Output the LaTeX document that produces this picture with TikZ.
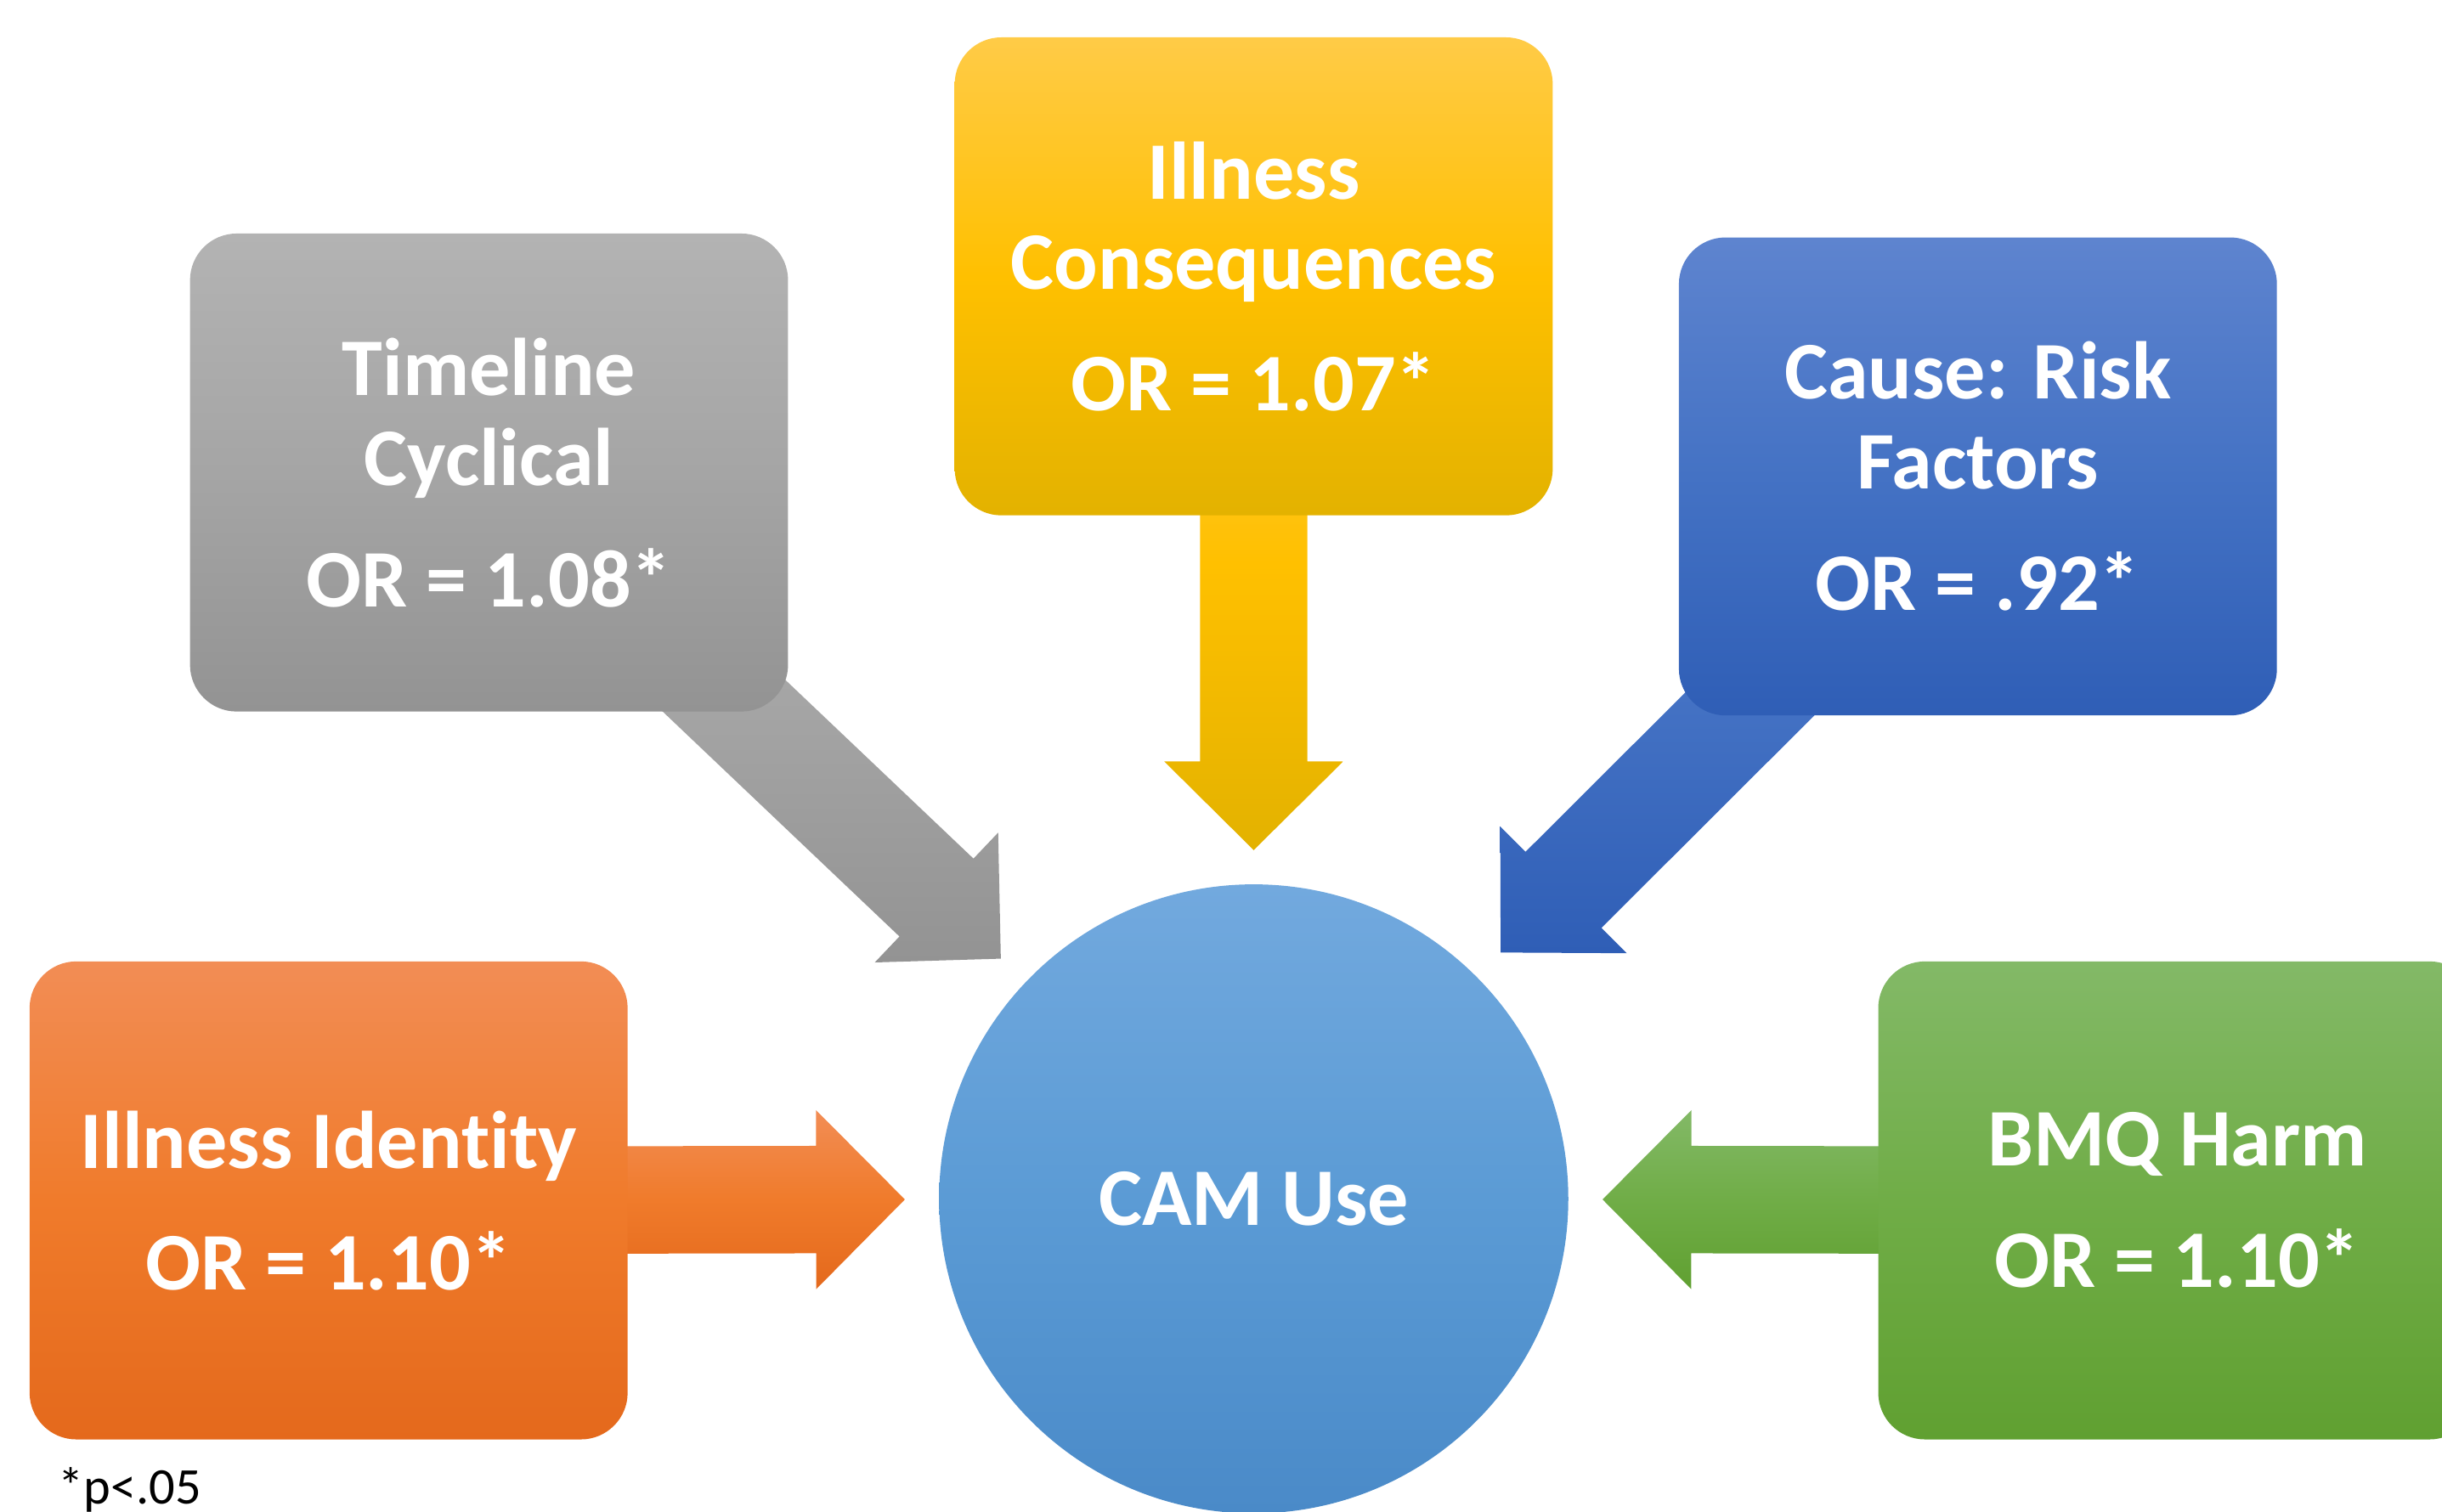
\documentclass[tikz,border=0pt]{standalone}
\usepackage{fontspec}
\setmainfont{Carlito}[Ligatures={NoCommon}]
\usetikzlibrary{calc,backgrounds}
\definecolor{grayT}{HTML}{B3B3B3}\definecolor{grayM}{HTML}{A5A5A5}\definecolor{grayB}{HTML}{939393}
\definecolor{yelT}{HTML}{FFCB47}\definecolor{yelM}{HTML}{FFC000}\definecolor{yelB}{HTML}{E3B200}
\definecolor{bluT}{HTML}{5E84CF}\definecolor{bluM}{HTML}{4472C4}\definecolor{bluB}{HTML}{2F5EB6}
\definecolor{orT}{HTML}{F28D55}\definecolor{orM}{HTML}{F07B2B}\definecolor{orB}{HTML}{E4691C}
\definecolor{grT}{HTML}{83B967}\definecolor{grM}{HTML}{70AD47}\definecolor{grB}{HTML}{60A031}
\definecolor{ciT}{HTML}{72A9DE}\definecolor{ciM}{HTML}{5B9BD5}\definecolor{ciB}{HTML}{4A8AC8}
\tikzset{
  box/.style={rectangle, rounded corners=30pt, minimum width=384pt, minimum height=307pt,
    inner sep=0pt, align=center, text=white, font=\bfseries\fontsize{52.5}{58}\selectfont},
  camnode/.style={circle, minimum size=404pt, inner sep=0pt, text=white,
    font=\bfseries\fontsize{52.5}{58}\selectfont},
  fgray/.style={top color=grayT, bottom color=grayB, middle color=grayM},
  fyel/.style={top color=yelT, bottom color=yelB, middle color=yelM},
  fblu/.style={top color=bluT, bottom color=bluB, middle color=bluM},
  for/.style={top color=orT, bottom color=orB, middle color=orM},
  fgr/.style={top color=grT, bottom color=grB, middle color=grM},
  fci/.style={top color=ciT, bottom color=ciB, middle color=ciM},
}
\newcommand{\blockarrow}[2]{%
  \coordinate (#1-t) at ($(cam.center)!224pt!(#1.center)$);
  \coordinate (#1-b) at ($(#1-t)!57pt!(#1.center)$);
  \path[#2] ($(#1.center)!34.5pt!90:(#1-t)$) -- ($(#1-b)!34.5pt!90:(#1-t)$)
    -- ($(#1-b)!57.5pt!90:(#1-t)$) -- (#1-t) -- ($(#1-b)!57.5pt!-90:(#1-t)$)
    -- ($(#1-b)!34.5pt!-90:(#1-t)$) -- ($(#1.center)!34.5pt!-90:(#1-t)$) -- cycle;
}
\begin{document}
\begin{tikzpicture}[x=1pt,y=-1pt]
\useasboundingbox (0,0) rectangle (1568,971);
\clip (0,0) rectangle (1568,971);
\node[box, fgray] (gray) at (314,303.5) {Timeline\\Cyclical\\[20pt]OR = 1.08*};
\node[box, fyel] (yel) at (805,177.5) {Illness\\Consequences\\[20pt]OR = 1.07*};
\node[box, fblu] (blu) at (1270,306) {Cause: Risk\\Factors\\[20pt]OR = .92*};
\node[box, for] (ora) at (211,771) {Illness Identity\\[20pt]OR = 1.10*};
\node[box, fgr] (grn) at (1398,771) {BMQ Harm\\[20pt]OR = 1.10*};
\node[camnode, fci] (cam) at (805,770) {CAM Use};
\node[anchor=base west, inner sep=0pt, font=\fontsize{33}{40}\selectfont] (note) at (37,966) {*p<.05};
\begin{scope}[on background layer]
\blockarrow{gray}{fgray}
\blockarrow{yel}{fyel}
\blockarrow{blu}{fblu}
\blockarrow{ora}{for}
\blockarrow{grn}{fgr}
\end{scope}
\end{tikzpicture}
\end{document}
